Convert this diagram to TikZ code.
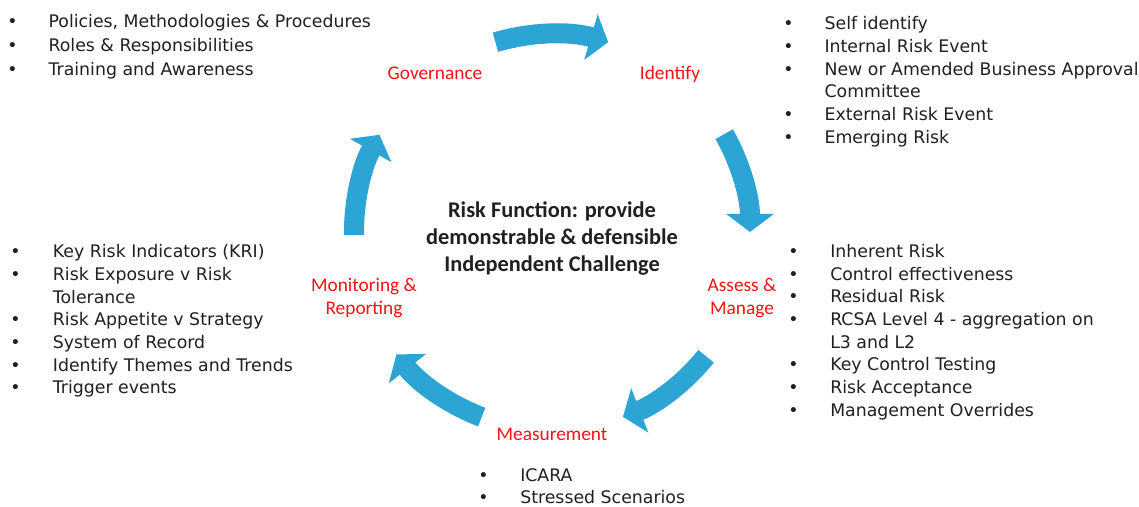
\documentclass[tikz,border=0pt]{standalone}
\usepackage{fontspec}
\setmainfont{DejaVu Sans}
\newfontfamily\calfont{Carlito}
\usepackage{tikz}
\usetikzlibrary{arrows.meta, positioning, calc}
\usepackage{xcolor}

\definecolor{arrowblue}{RGB}{44,165,213}
\definecolor{stagered}{RGB}{245,20,20}
\definecolor{inkgray}{RGB}{35,31,32}

\tikzset{
  cyclearrow/.style={draw=arrowblue, line width=15pt,
    -{Triangle[length=13.5pt, width=35pt]}},
  itemlist/.style={anchor=base west, inner sep=0pt, text=inkgray,
    font=\fontsize{13pt}{17pt}\selectfont},
  stagename/.style={inner sep=0pt, text=stagered, align=center,
    font=\calfont\fontsize{14.5pt}{16.8pt}\selectfont},
}

\begin{document}
\begin{tikzpicture}[x=0.75pt, y=0.75pt]
  \fill[white] (0,0) rectangle (1139,507);
  \path[use as bounding box] (0,0) rectangle (1139,507);

  % the cycle of block arrows
  \coordinate (hub) at (552,275);
  \draw[cyclearrow] ([shift={(106.6:198)}]hub) arc[start angle=106.6, end angle=73.5, radius=148.5pt];
  \draw[cyclearrow] ([shift={(29.6:198)}]hub) arc[start angle=29.6, end angle=0, radius=148.5pt];
  \draw[cyclearrow] ([shift={(-38.9:198)}]hub) arc[start angle=-38.9, end angle=-69, radius=148.5pt];
  \draw[cyclearrow] ([shift={(249.2:198)}]hub) arc[start angle=249.2, end angle=218.2, radius=148.5pt];
  \draw[cyclearrow] ([shift={(180.9:198)}]hub) arc[start angle=180.9, end angle=150.6, radius=148.5pt];

  % centre statement
  \node[align=center, inner sep=0pt, text=inkgray,
    font=\calfont\bfseries\fontsize{16.8pt}{20.25pt}\selectfont] (mission) at (hub |- 0,268)
    {Risk Function: provide\\demonstrable \& defensible\\Independent Challenge};

  % stage names
  \node[stagename, anchor=base] (governance) at (435,427) {Governance};
  \node[stagename, anchor=base] (identify) at (670,427) {Identify};
  \node[stagename] (assess) at (742,209) {Assess \&\\Manage};
  \node[stagename, anchor=base] (measurement) at (552,66) {Measurement};
  \node[stagename] (monitoring) at (364,209) {Monitoring \&\\Reporting};

  % bullet lists
  \node[itemlist, font=\fontsize{13pt}{17.8pt}\selectfont] (govlist) at (7,479.3) {%
    \begin{tabular}[t]{@{}p{31pt}@{}l@{}}
      \textbullet & Policies, Methodologies \& Procedures\\
      \textbullet & Roles \& Responsibilities\\
      \textbullet & Training and Awareness
    \end{tabular}};
  \node[itemlist] (idlist) at (783,477) {%
    \begin{tabular}[t]{@{}p{31pt}@{}l@{}}
      \textbullet & Self identify\\
      \textbullet & Internal Risk Event\\
      \textbullet & New or Amended Business Approval\\
                  & Committee\\
      \textbullet & External Risk Event\\
      \textbullet & Emerging Risk
    \end{tabular}};
  \node[itemlist] (assesslist) at (788,249.5) {%
    \begin{tabular}[t]{@{}p{31.5pt}@{}l@{}}
      \textbullet & Inherent Risk\\
      \textbullet & Control effectiveness\\
      \textbullet & Residual Risk\\
      \textbullet & RCSA Level 4 - aggregation on\\
                  & L3 and L2\\
      \textbullet & Key Control Testing\\
      \textbullet & Risk Acceptance\\
      \textbullet & Management Overrides
    \end{tabular}};
  \node[itemlist] (monlist) at (10,249.3) {%
    \begin{tabular}[t]{@{}p{32pt}@{}l@{}}
      \textbullet & Key Risk Indicators (KRI)\\
      \textbullet & Risk Exposure v Risk\\
                  & Tolerance\\
      \textbullet & Risk Appetite v Strategy\\
      \textbullet & System of Record\\
      \textbullet & Identify Themes and Trends\\
      \textbullet & Trigger events
    \end{tabular}};
  \node[itemlist] (measlist) at (478,26) {%
    \begin{tabular}[t]{@{}p{31.5pt}@{}l@{}}
      \textbullet & ICARA\\
      \textbullet & Stressed Scenarios
    \end{tabular}};
\end{tikzpicture}
\end{document}
